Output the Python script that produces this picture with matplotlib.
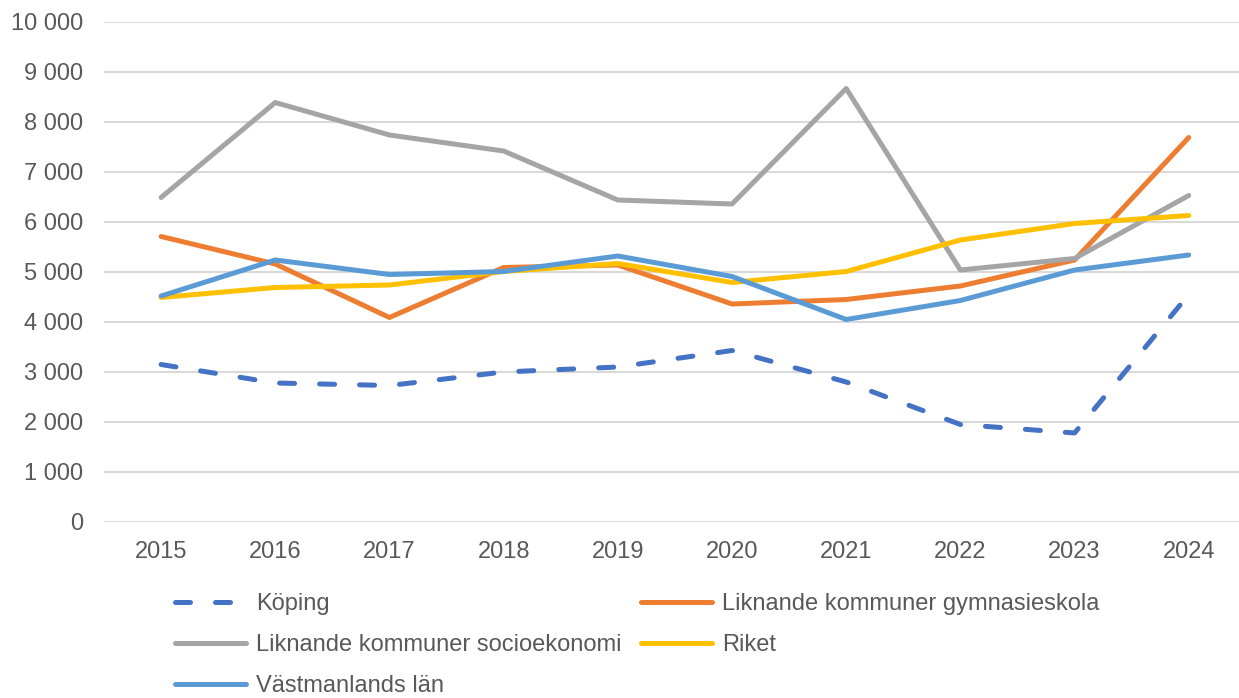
import matplotlib
matplotlib.use("Agg")
import matplotlib.pyplot as plt
from matplotlib.ticker import FuncFormatter

plt.rcParams['font.family'] = ['Liberation Sans', 'DejaVu Sans']

years = ["2015", "2016", "2017", "2018", "2019", "2020", "2021", "2022", "2023", "2024"]
koping = [3150, 2780, 2730, 3000, 3100, 3430, 2800, 1950, 1780, 4550]
liknande_gymn = [5710, 5160, 4090, 5090, 5140, 4360, 4450, 4720, 5240, 7690]
liknande_socio = [6490, 8390, 7740, 7420, 6440, 6360, 8670, 5040, 5270, 6530]
riket = [4490, 4690, 4740, 5010, 5170, 4790, 5010, 5640, 5970, 6130]
vastmanland = [4520, 5240, 4950, 5010, 5320, 4910, 4050, 4430, 5040, 5340]

labels = ["Köping", "Liknande kommuner gymnasieskola",
          "Liknande kommuner socioekonomi", "Riket", "Västmanlands län"]
colors = ["#4472C4", "#ED7D31", "#A5A5A5", "#FFC000", "#5B9BD5"]

fig = plt.figure(figsize=(12.39, 6.98), dpi=100)
ax = fig.add_axes([104/1239, 176/698, 1135/1239, 500/698])

x = list(range(len(years)))
lw = 3.6
h = {}
h[0], = ax.plot(x, koping, color=colors[0], lw=lw, dashes=(3, 5),
                dash_capstyle='round', solid_capstyle='round', label=labels[0], zorder=3)
series = [liknande_gymn, liknande_socio, riket, vastmanland]
for i, s in enumerate(series, start=1):
    h[i], = ax.plot(x, s, color=colors[i], lw=lw, solid_capstyle='round',
                    solid_joinstyle='round', label=labels[i], zorder=2)

ax.set_xlim(-0.5, 9.44)
ax.set_ylim(0, 10000)
ax.set_yticks(range(0, 10001, 1000))
ax.yaxis.set_major_formatter(FuncFormatter(lambda v, p: f"{int(v):,}".replace(",", " ")))
ax.set_xticks(x)
ax.set_xticklabels(years)
ax.grid(axis='y', color='#D9D9D9', lw=1.5)
ax.set_axisbelow(True)
for sp in ax.spines.values():
    sp.set_visible(False)
ax.tick_params(axis='both', length=0, labelsize=17, colors='#595959')
ax.tick_params(axis='y', pad=15)
ax.tick_params(axis='x', pad=14)

order = [0, 2, 4, 1, 3]
leg = fig.legend([h[i] for i in order], [labels[i] for i in order],
                 ncol=2, loc='upper left', bbox_to_anchor=(175/1239, 1 - 593/698),
                 frameon=False, fontsize=17, handlelength=3.0, handletextpad=0.42,
                 columnspacing=0.85, labelspacing=0.81, labelcolor='#595959',
                 borderpad=0, borderaxespad=0)

fig.savefig("out.png", dpi=100)
